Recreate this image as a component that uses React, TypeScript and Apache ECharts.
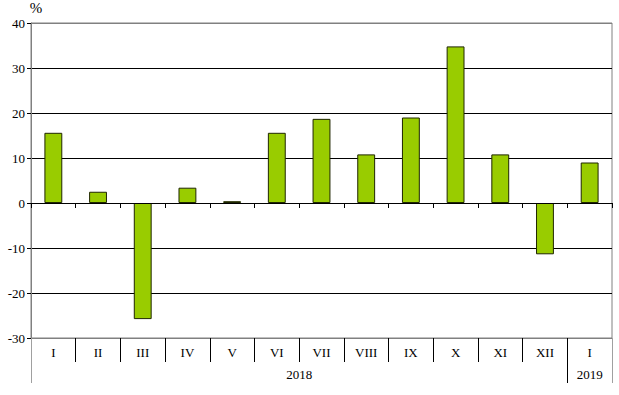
import React, { useEffect, useRef } from "react";
import * as echarts from "echarts";

const categories = ["I", "II", "III", "IV", "V", "VI", "VII", "VIII", "IX", "X", "XI", "XII", "I"];
const values = [15.6, 2.5, -25.8, 3.4, 0.4, 15.6, 18.7, 10.8, 19.0, 34.8, 10.8, -11.4, 9.0];
const yearLabels = ["2018", "2019"];
const yearCenters = [6, 12.5];
const yearBounds = [0, 12, 13];

const FONT = "Liberation Serif";

export default function App() {
  const ref = useRef<HTMLDivElement>(null);
  useEffect(() => {
    if (!ref.current) return;
    const chart = echarts.init(ref.current, null, { renderer: "svg" });
    chart.setOption({
      animation: false,
      backgroundColor: "#ffffff",
      textStyle: { fontFamily: FONT },
      grid: {
        left: 31,
        right: 7,
        top: 23,
        bottom: 57,
        containLabel: false,
        outerBoundsMode: "none",
        show: true,
        borderColor: "#808080",
        borderWidth: 1,
      },
      xAxis: [
        {
          type: "category",
          data: categories,
          position: "bottom",
          axisLine: { onZero: true, lineStyle: { color: "#000", width: 1 } },
          axisTick: { show: true, length: 5, interval: 0, lineStyle: { color: "#000" } },
          axisLabel: { show: false },
          splitLine: { show: false },
          z: 5,
        },
        {
          type: "category",
          data: categories,
          position: "bottom",
          axisLine: { show: true, onZero: false, lineStyle: { color: "#808080", width: 1 } },
          axisTick: { show: true, length: 24, interval: 0, lineStyle: { color: "#000" } },
          axisLabel: {
            show: true,
            interval: 0,
            margin: 8,
            color: "#000",
            fontFamily: FONT,
            fontSize: 13,
          },
          splitLine: { show: false },
        },
        {
          type: "value",
          min: 0,
          max: 13,
          position: "bottom",
          offset: 24,
          axisLine: { show: false, onZero: false },
          axisTick: {
            show: true,
            length: 21,
            customValues: [yearBounds[1]],
            lineStyle: { color: "#000" },
          },
          axisLabel: {
            show: true,
            customValues: yearCenters,
            margin: 6,
            formatter: (v: number) => (v < 12 ? yearLabels[0] : yearLabels[1]),
            color: "#000",
            fontFamily: FONT,
            fontSize: 13,
          },
          splitLine: { show: false },
        },
        {
          type: "value",
          min: 0,
          max: 13,
          position: "bottom",
          offset: 0,
          axisLine: { show: false, onZero: false },
          axisTick: {
            show: true,
            length: 45,
            customValues: [yearBounds[0], yearBounds[2]],
            lineStyle: { color: "#a0a0a0" },
          },
          axisLabel: { show: false },
          splitLine: { show: false },
        },
      ],
      yAxis: {
        type: "value",
        min: -30,
        max: 40,
        interval: 10,
        name: "%",
        nameLocation: "end",
        nameGap: 8,
        nameTextStyle: {
          color: "#000",
          fontFamily: FONT,
          fontSize: 15,
          padding: [0, 0, 0, 10],
        },
        axisLine: { show: true, lineStyle: { color: "#808080" } },
        axisTick: { show: true, length: 4, lineStyle: { color: "#000" } },
        axisLabel: {
          color: "#000",
          fontFamily: FONT,
          fontSize: 13,
          margin: 6,
        },
        splitLine: {
          show: true,
          lineStyle: {
            color: ["#808080", "#000", "#000", "#000", "#000", "#000", "#000", "#808080"],
            width: 1,
          },
        },
      },
      series: [
        {
          type: "bar",
          xAxisIndex: 0,
          data: values,
          barWidth: "40%",
          itemStyle: {
            color: "#99CC00",
            borderColor: "#1f2600",
            borderWidth: 1,
          },
          z: 3,
        },
      ],
    });
    return () => chart.dispose();
  }, []);
  return (
    <div
      ref={ref}
      style={{ position: "fixed", left: 0, top: 0, width: 619, height: 395 }}
    />
  );
}
